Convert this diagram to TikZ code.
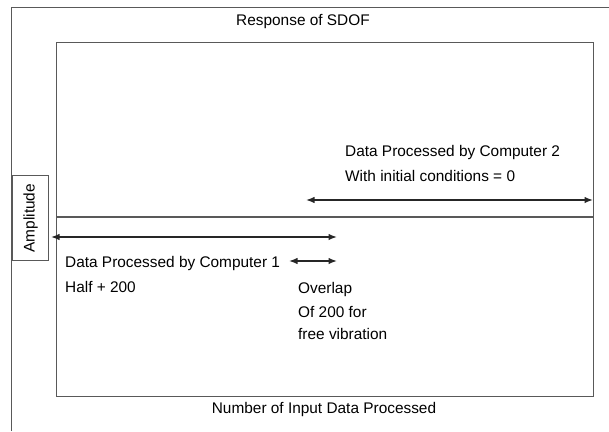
\documentclass[tikz,border=0pt]{standalone}
\usepackage{fontspec}
\setmainfont{Liberation Sans}
\usetikzlibrary{arrows.meta}
\begin{document}
\begin{tikzpicture}[x=1pt,y=-1pt,
  frame/.style={draw=black!65,line width=1.2pt},
  dimarrow/.style={draw=black!85,line width=1.4pt,{Latex[length=8.5pt,width=6.5pt]}-{Latex[length=8.5pt,width=6.5pt]}},
  txt/.style={font=\fontsize{15.4}{17}\selectfont},
  lbl/.style={txt,inner sep=0pt,anchor=west},
  pt/.style={inner sep=0pt,minimum size=0pt}]
\useasboundingbox (0,0) rectangle (609,431);
% outer frame
\draw[frame] (11.5,431) -- (11.5,7.5) -- (609,7.5);
% inner plot box
\node[frame,pt,anchor=north west,minimum width=537pt,minimum height=354pt] (plot) at (56,42) {};
\coordinate (midL) at (56,217);
\coordinate (midR) at (593,217);
\draw[frame] (midL) -- (midR);
% amplitude box
\node[frame,pt,anchor=north west,minimum width=36pt,minimum height=85pt] (amp) at (12,175) {};
\node[rotate=90,txt] (amptext) at (amp.center) {Amplitude};
% title
\node[txt] (title) at (303,22) {Response of SDOF};
\node[txt] (xlabel) at (324,410) {Number of Input Data Processed};
% arrows
\coordinate (a2l) at (306,200);
\coordinate (a2r) at (593,200);
\draw[dimarrow] (a2l) -- (a2r);
\coordinate (a1l) at (51,237);
\coordinate (a1r) at (337,237);
\draw[dimarrow] (a1l) -- (a1r);
\coordinate (ovl) at (289,261);
\coordinate (ovr) at (337,261);
\draw[dimarrow] (ovl) -- (ovr);
% labels
\node[lbl] (c2a) at (345,153) {Data Processed by Computer 2};
\node[lbl] (c2b) at (345,176) {With initial conditions = 0};
\node[lbl] (c1a) at (65,264) {Data Processed by Computer 1};
\node[lbl] (c1b) at (65,287) {Half + 200};
\node[lbl] (ov1) at (298,290) {Overlap};
\node[lbl] (ov2) at (298,312) {Of 200 for};
\node[lbl] (ov3) at (298,334) {free vibration};
\end{tikzpicture}
\end{document}
